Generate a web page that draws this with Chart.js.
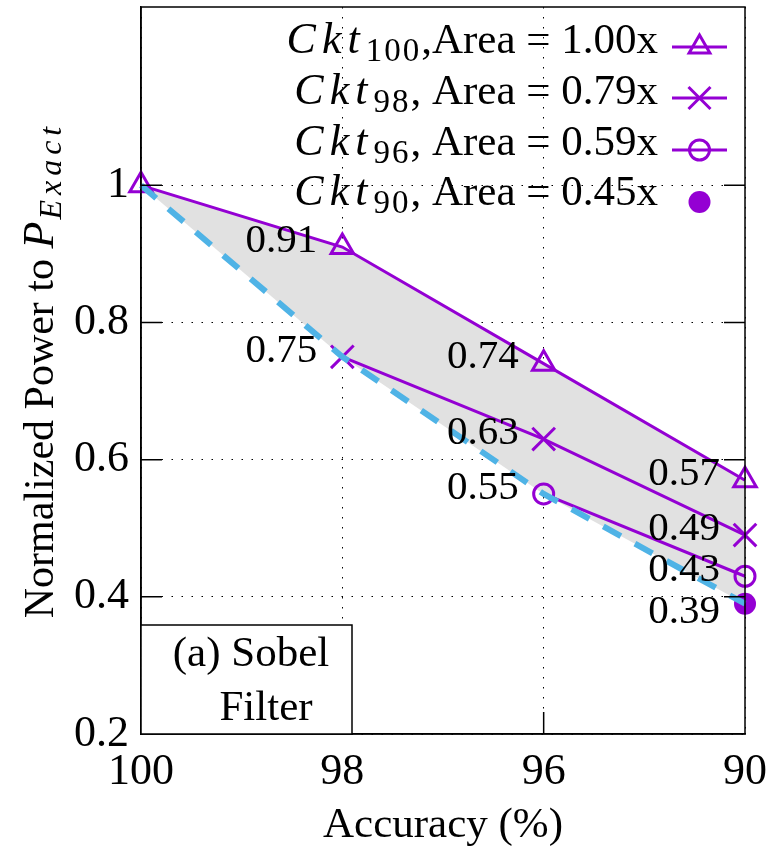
<!DOCTYPE html>
<html>
<head>
<meta charset="utf-8">
<script src="https://cdn.jsdelivr.net/npm/chart.js@4/dist/chart.umd.min.js"></script>
<style>
  html, body { margin: 0; padding: 0; background: #fff; }
  #wrap { width: 766px; height: 847px; }
</style>
</head>
<body>
<div id="wrap"><canvas id="chart" width="766" height="847"></canvas></div>
<script>
// accuracy levels on x, normalized power on y
const categories = ['100', '98', '96', '90'];
const ckt100 = [1.00, 0.91, 0.74, 0.57];
const ckt98 = [null, 0.75, 0.63, 0.49];
const ckt96 = [null, null, 0.55, 0.43];
const ckt90 = [null, null, null, 0.39];
const frontier = [1.00, 0.75, 0.55, 0.39];
const yTicks = [0.2, 0.4, 0.6, 0.8, 1];
const legendSubs = ['100', '98', '96', '90'];
const legendAreas = [',Area = 1.00x', ', Area = 0.79x', ', Area = 0.59x', ', Area = 0.45x'];

const PURPLE = '#9400d3';
const BLUE = '#4fb3e6';
const FONT = 'Liberation Serif, Times New Roman, serif';

function drawMarker(ctx, style, x, y) {
    ctx.save();
    ctx.strokeStyle = PURPLE;
    ctx.fillStyle = PURPLE;
    ctx.lineWidth = 3;
    ctx.beginPath();
    if (style === 'triangle') {
        const r = 12;
        ctx.moveTo(x, y - r);
        ctx.lineTo(x + r * 0.866, y + r * 0.5);
        ctx.lineTo(x - r * 0.866, y + r * 0.5);
        ctx.closePath();
        ctx.stroke();
    } else if (style === 'crossRot') {
        const d = 11;
        ctx.moveTo(x - d, y - d); ctx.lineTo(x + d, y + d);
        ctx.moveTo(x + d, y - d); ctx.lineTo(x - d, y + d);
        ctx.stroke();
    } else if (style === 'circle') {
        ctx.arc(x, y, 10, 0, Math.PI * 2);
        ctx.stroke();
    } else {
        ctx.arc(x, y, 11, 0, Math.PI * 2);
        ctx.fill();
    }
    ctx.restore();
}

function noPadding(scale) {
    scale.paddingLeft = 0;
    scale.paddingRight = 0;
    scale.paddingTop = 0;
    scale.paddingBottom = 0;
}

const valueLabels = {
    id: 'valueLabels',
    afterDatasetsDraw(chart) {
        const ctx = chart.ctx;
        ctx.save();
        ctx.font = '41px ' + FONT;
        ctx.fillStyle = '#000';
        ctx.textAlign = 'right';
        ctx.textBaseline = 'middle';
        [0, 1, 2, 3].forEach(i => {
            const ds = chart.data.datasets[i];
            chart.getDatasetMeta(i).data.forEach((pt, j) => {
                const v = ds.data[j];
                if (v === null || j === 0) return;
                const dy = i === 3 ? 9 : -6;
                ctx.fillText(v.toFixed(2), pt.x - 25, pt.y + dy);
            });
        });
        ctx.restore();
    }
};

const decor = {
    id: 'decor',
    afterDraw(chart) {
        const ctx = chart.ctx;
        const a = chart.chartArea;
        const xs = chart.scales.x, ys = chart.scales.y;
        ctx.save();

        // frame + inner ticks
        ctx.strokeStyle = '#000';
        ctx.lineWidth = 1.5;
        ctx.strokeRect(a.left, a.top, a.right - a.left, a.bottom - a.top);
        ctx.beginPath();
        yTicks.slice(1).forEach(v => {
            const y = ys.getPixelForValue(v);
            ctx.moveTo(a.left, y); ctx.lineTo(a.left + 21, y);
            ctx.moveTo(a.right, y); ctx.lineTo(a.right - 21, y);
        });
        [1, 2].forEach(i => {
            const x = xs.getPixelForValue(i);
            ctx.moveTo(x, a.bottom); ctx.lineTo(x, a.bottom - 22);
        });
        ctx.stroke();

        // subplot caption box
        ctx.fillStyle = '#fff';
        ctx.fillRect(a.left, 625, 211, a.bottom - 625);
        ctx.strokeRect(a.left, 625, 211, a.bottom - 625);
        ctx.fillStyle = '#000';
        ctx.font = '43px ' + FONT;
        ctx.textAlign = 'center';
        ctx.textBaseline = 'middle';
        ctx.fillText('(a) Sobel', 251, 655);
        ctx.fillText('Filter', 266, 709);

        // x axis title
        ctx.fillText('Accuracy (%)', (a.left + a.right) / 2, 826);

        // y axis title with P_Exact
        ctx.save();
        ctx.translate(53, 370);
        ctx.rotate(-Math.PI / 2);
        ctx.textAlign = 'left';
        ctx.textBaseline = 'alphabetic';
        const part1 = 'Normalized Power to ';
        ctx.font = '42px ' + FONT;
        const w1 = ctx.measureText(part1).width;
        ctx.font = 'italic 44px ' + FONT;
        const w2 = ctx.measureText('P').width;
        ctx.font = 'italic 32px ' + FONT;
        ctx.letterSpacing = '5px';
        const w3 = ctx.measureText('Exact').width;
        ctx.letterSpacing = '0px';
        let x0 = -(w1 + w2 + w3 + 2) / 2;
        ctx.font = '42px ' + FONT;
        ctx.fillText(part1, x0, 0);
        ctx.font = 'italic 44px ' + FONT;
        ctx.fillText('P', x0 + w1, 0);
        ctx.font = 'italic 32px ' + FONT;
        ctx.letterSpacing = '5px';
        ctx.fillText('Exact', x0 + w1 + w2 + 2, 8);
        ctx.letterSpacing = '0px';
        ctx.restore();

        // legend
        const styles = ['triangle', 'crossRot', 'circle', 'dot'];
        const baselines = [53, 104, 155, 205];
        const lineYs = [47, 98, 150, 202];
        const textRight = 658;
        ctx.textAlign = 'left';
        ctx.textBaseline = 'alphabetic';
        legendSubs.forEach((sub, i) => {
            ctx.font = 'italic 44px ' + FONT;
            ctx.letterSpacing = '6px';
            const wc = ctx.measureText('Ckt').width;
            ctx.font = '33px ' + FONT;
            ctx.letterSpacing = '2px';
            const ws = ctx.measureText(sub).width;
            ctx.letterSpacing = '0px';
            ctx.font = '43px ' + FONT;
            const wa = ctx.measureText(legendAreas[i]).width;
            let x = textRight - wa - ws - wc;
            const b = baselines[i];
            ctx.font = 'italic 44px ' + FONT;
            ctx.letterSpacing = '6px';
            ctx.fillText('Ckt', x, b);
            ctx.font = '33px ' + FONT;
            ctx.letterSpacing = '2px';
            ctx.fillText(sub, x + wc, b + 8);
            ctx.letterSpacing = '0px';
            ctx.font = '43px ' + FONT;
            ctx.fillText(legendAreas[i], x + wc + ws, b);
            if (styles[i] !== 'dot') {
                ctx.strokeStyle = PURPLE;
                ctx.lineWidth = 3;
                ctx.beginPath();
                ctx.moveTo(672, lineYs[i]); ctx.lineTo(727, lineYs[i]);
                ctx.stroke();
            }
            drawMarker(ctx, styles[i], 699.5, lineYs[i]);
        });
        ctx.restore();
    }
};

const common = { borderColor: PURPLE, borderWidth: 3, pointBorderColor: PURPLE, pointBorderWidth: 3, pointBackgroundColor: 'rgba(0,0,0,0)', spanGaps: false };

new Chart(document.getElementById('chart'), {
    type: 'line',
    data: {
        labels: categories,
        datasets: [
            { ...common, label: 'Ckt100', data: ckt100, pointStyle: 'triangle', pointRadius: 13, fill: { target: 4 }, backgroundColor: '#e1e1e1', order: 4 },
            { ...common, label: 'Ckt98', data: ckt98, pointStyle: 'crossRot', pointRadius: 16, fill: false, order: 3 },
            { ...common, label: 'Ckt96', data: ckt96, pointStyle: 'circle', pointRadius: 10, fill: false, order: 2 },
            { ...common, label: 'Ckt90', data: ckt90, pointStyle: 'circle', pointRadius: 11, pointBorderWidth: 0, pointBackgroundColor: PURPLE, fill: false, order: 1 },
            { label: 'frontier', data: frontier, borderColor: BLUE, borderWidth: 6, borderDash: [20, 16], pointRadius: 0, fill: false, order: 0 }
        ]
    },
    options: {
        responsive: false,
        animation: false,
        layout: { autoPadding: false, padding: { top: 7, right: 21, left: 0, bottom: 0 } },
        plugins: {
            legend: { display: false },
            tooltip: { enabled: false },
            filler: { drawTime: 'beforeDatasetsDraw' }
        },
        scales: {
            x: {
                type: 'category',
                offset: false,
                grid: { color: '#000', lineWidth: 1, drawTicks: false },
                border: { display: true, color: '#000', width: 1.5, dash: [1.5, 8.5] },
                ticks: { color: '#000', font: { family: FONT, size: 44 }, padding: 12, maxRotation: 0 },
                afterFit(scale) { scale.height = 113; noPadding(scale); }
            },
            y: {
                min: 0.2,
                max: 1.26,
                grid: { color: '#000', lineWidth: 1, drawTicks: false },
                border: { display: true, color: '#000', width: 1.5, dash: [1.5, 8.5] },
                ticks: {
                    color: '#000',
                    font: { family: FONT, size: 44 },
                    padding: 12,
                    callback: v => (v === 1 ? '1' : v.toFixed(1))
                },
                afterBuildTicks(scale) { scale.ticks = yTicks.map(v => ({ value: v })); },
                afterFit(scale) { scale.width = 141; noPadding(scale); }
            }
        }
    },
    plugins: [valueLabels, decor]
});
</script>
</body>
</html>
